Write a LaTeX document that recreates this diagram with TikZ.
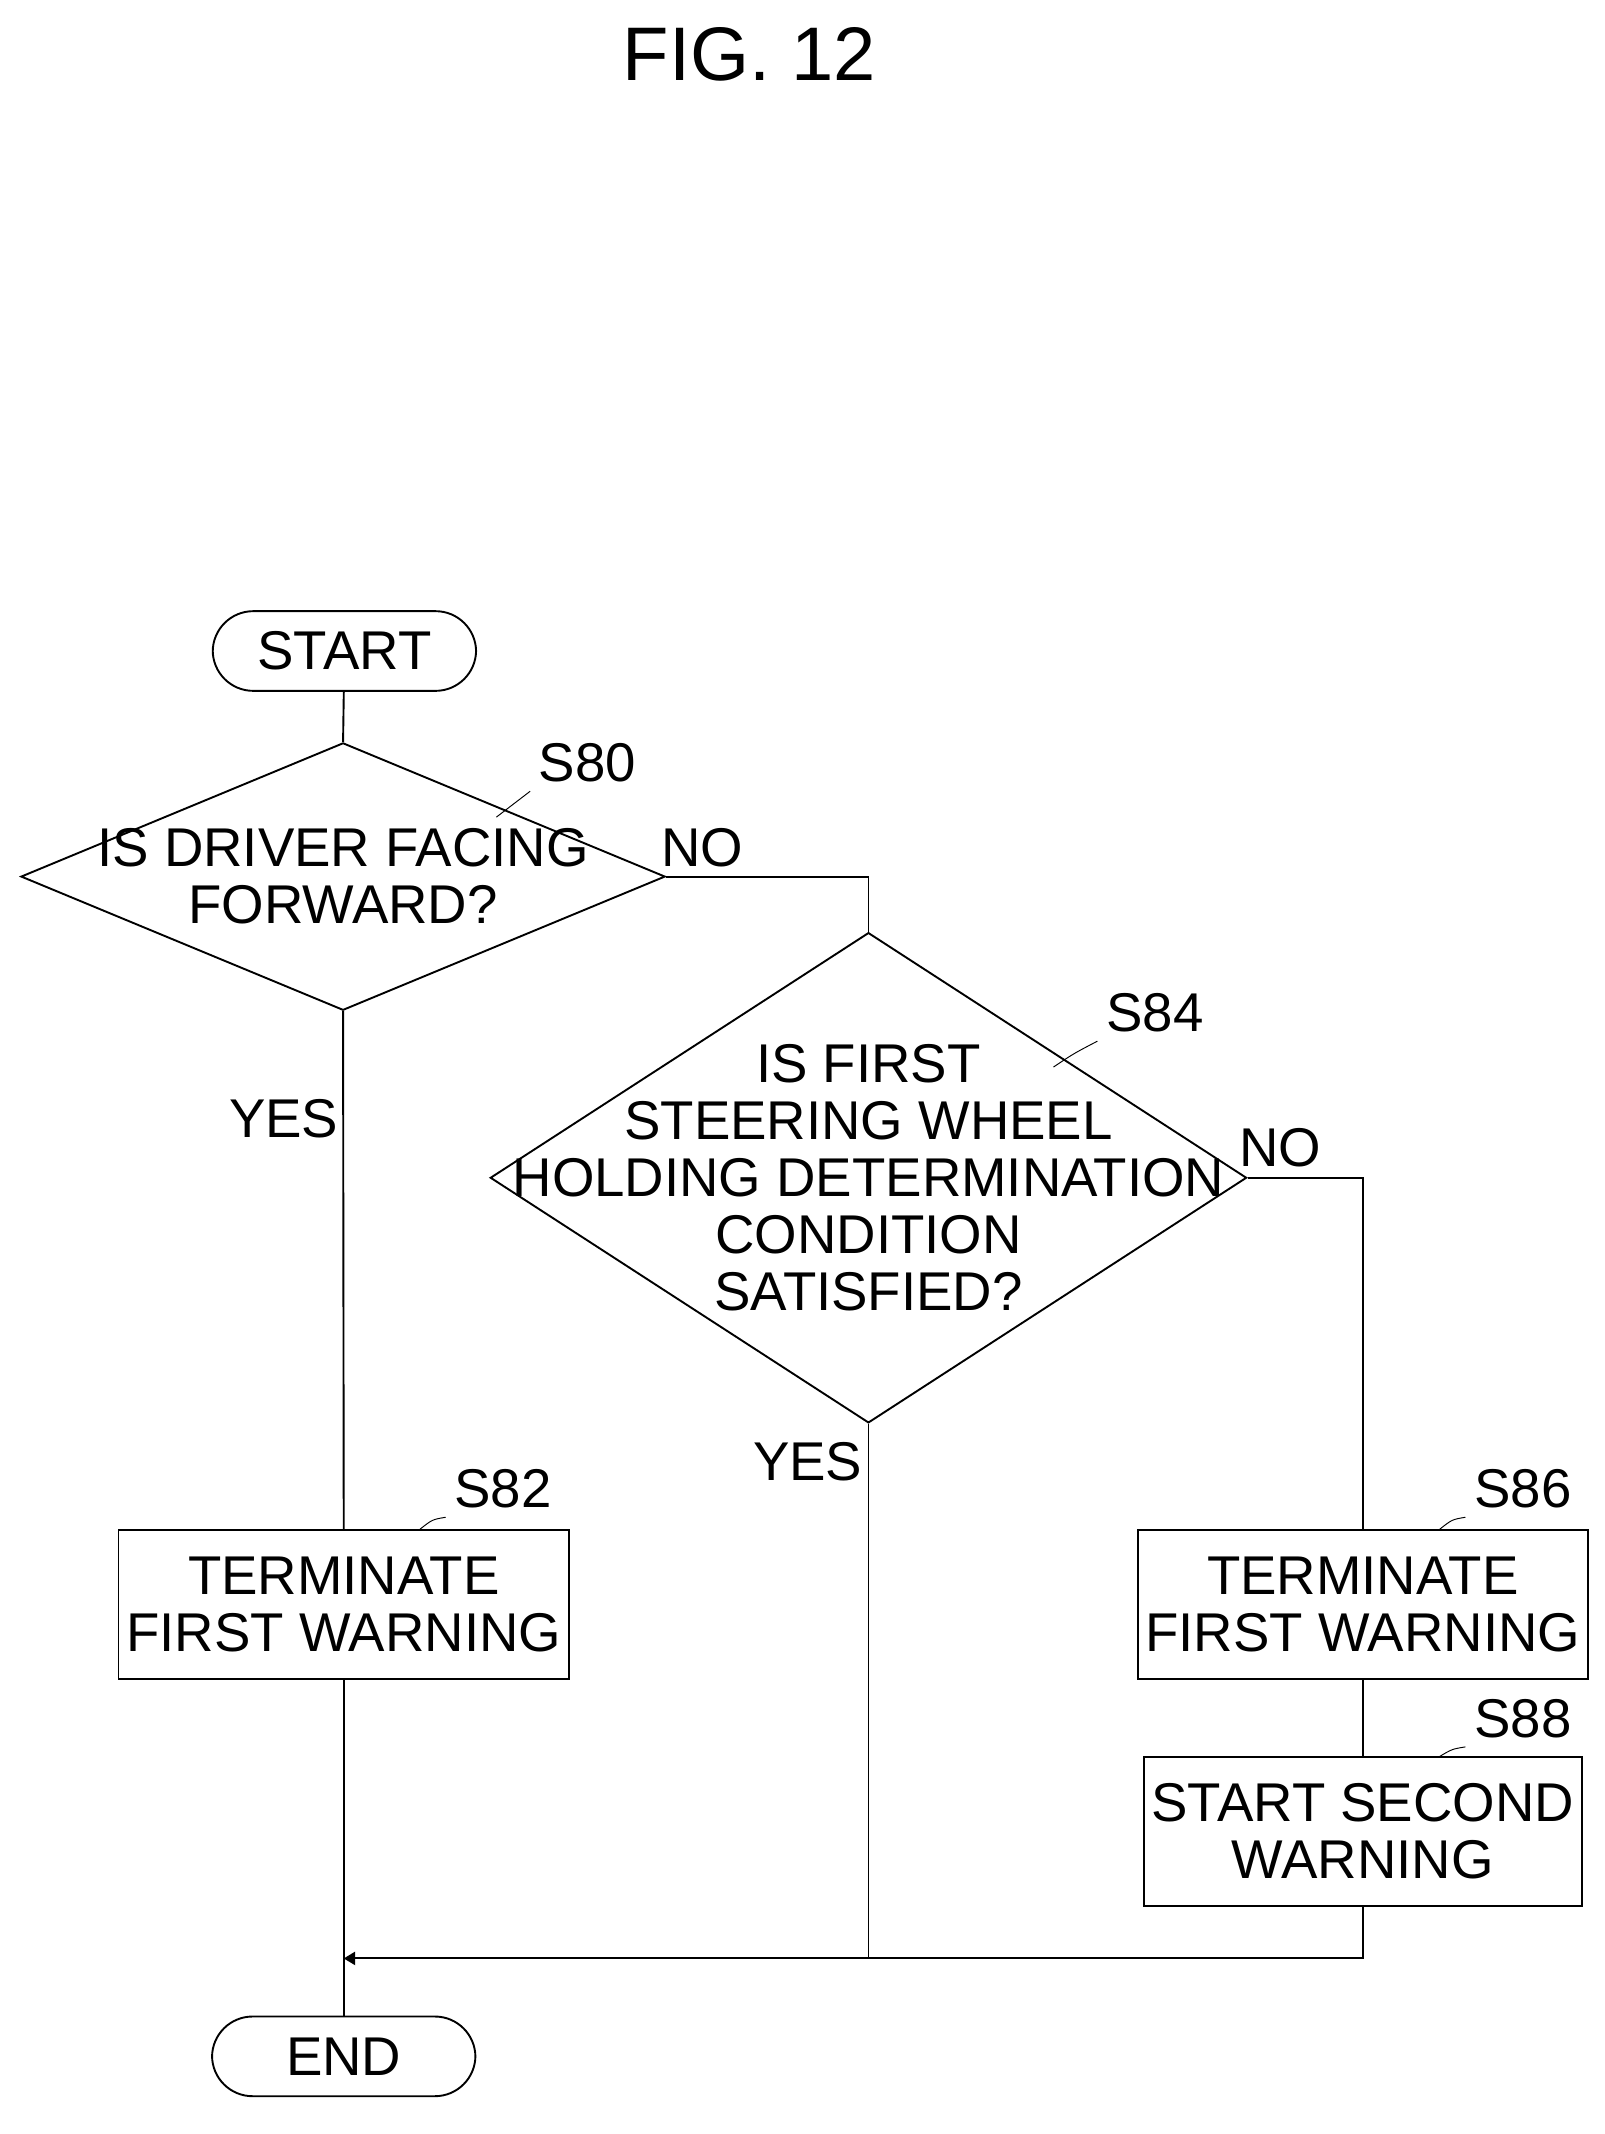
\documentclass[tikz,border=0pt]{standalone}
\usepackage{fontspec}
\setmainfont{Liberation Sans}
\usetikzlibrary{shapes.geometric,arrows.meta}

\begin{document}
\begin{tikzpicture}[thick,>=Triangle,
  term/.style={rectangle, rounded corners=0.6cm, draw, minimum width=3.9cm, minimum height=1.18cm, font=\fontsize{23}{24}\selectfont},
  dec/.style={diamond, draw, inner sep=0pt},
  box/.style={rectangle, draw, minimum width=6.17cm, minimum height=2.2cm, align=center, font=\fontsize{23}{24}\selectfont},
  txt/.style={align=center, font=\fontsize{23}{24}\selectfont},
  tag/.style={font=\fontsize{23}{24}\selectfont}]
\useasboundingbox (0,0) rectangle (23.76,-31.6);
\node[font=\fontsize{32}{34}\selectfont] (title) at (11.1,-0.8) {FIG. 12};

\draw (5.1,-9.64) node[term] (start) {START};
\draw (5.08,-12.98) node[dec, minimum width=9.54cm, minimum height=3.96cm] (s80) {};
\node[txt] (s80t) at (5.08,-12.98) {IS DRIVER FACING\\FORWARD?};
\draw (12.86,-17.44) node[dec, minimum width=11.2cm, minimum height=7.26cm] (s84) {};
\node[txt] (s84t) at (12.86,-17.44) {IS FIRST\\STEERING WHEEL\\HOLDING DETERMINATION\\CONDITION\\SATISFIED?};
\draw (5.09,-23.76) node[box] (s82) {TERMINATE\\FIRST WARNING};
\draw (20.18,-23.76) node[box] (s86) {TERMINATE\\FIRST WARNING};
\draw (20.18,-27.12) node[box] (s88) {START SECOND\\WARNING};
\draw (5.09,-30.45) node[term] (end) {END};

% step labels
\node[tag] (l80) at (8.7,-11.3) {S80};
\node[tag] (l84) at (17.1,-15.0) {S84};
\node[tag] (l82) at (7.45,-22.05) {S82};
\node[tag] (l86) at (22.55,-22.05) {S86};
\node[tag] (l88) at (22.55,-25.45) {S88};
\draw[thin] (l80.south west) .. controls (7.6,-11.9) .. (7.35,-12.1);
\draw[thin] (l84.south west) .. controls (15.9,-15.6) .. (15.6,-15.8);
\draw[thin] (l82.south west) .. controls (6.4,-22.5) .. (6.2,-22.66);
\draw[thin] (l86.south west) .. controls (21.5,-22.5) .. (21.3,-22.66);
\draw[thin] (l88.south west) .. controls (21.5,-25.9) .. (21.3,-26.02);

% branch labels
\node[tag] (no1) at (10.4,-12.55) {NO};
\node[tag] (no2) at (18.96,-17.0) {NO};
\node[tag] (yes1) at (4.2,-16.56) {YES};
\node[tag] (yes2) at (11.96,-21.64) {YES};

% connectors
\coordinate (j80) at (12.86,-12.98);
\coordinate (j84) at (20.18,-17.44);
\coordinate (m84) at (12.86,-29.0);
\coordinate (c88) at (20.18,-29.0);
\coordinate (jn) at (5.09,-29.0);
\draw (start) -- (s80.north);
\draw (s80.east) -- (j80) -- (s84.north);
\draw (s80.south) -- (s82.north);
\draw (s84.east) -- (j84) -- (s86.north);
\draw (s86) -- (s88);
\draw (s84.south) -- (m84);
\draw[->] (s88.south) -- (c88) -- (jn);
\draw (s82.south) -- (end.north);
\end{tikzpicture}
\end{document}
